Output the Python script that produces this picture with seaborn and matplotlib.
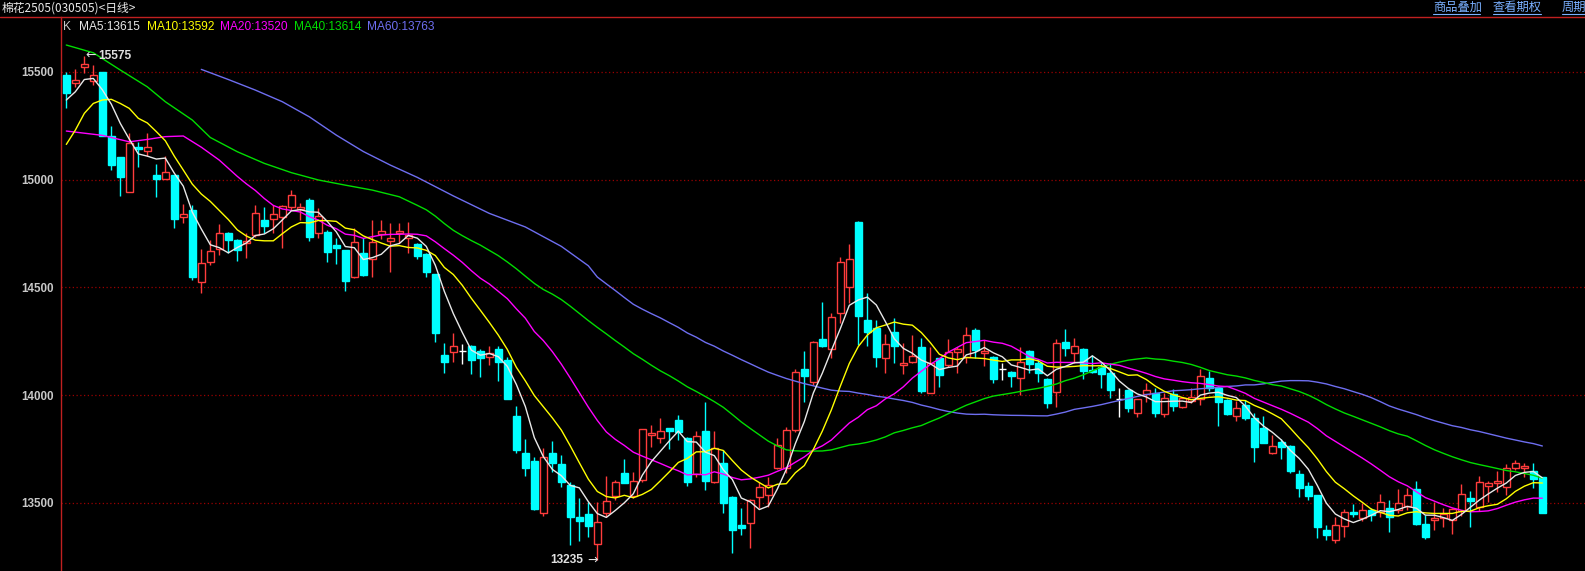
import numpy as np
import pandas as pd
import matplotlib
matplotlib.use("Agg")
import matplotlib.pyplot as plt
import seaborn as sns
from matplotlib.lines import Line2D

# ---------------- data ----------------
opens = [15485, 15446, 15520, 15457, 15498, 15203, 15104, 14940, 15152, 15134,
         15021, 15001, 15021, 14824, 14858, 14523, 14616, 14678, 14753, 14719,
         14704, 14742, 14812, 14815, 14827, 14871, 14861, 14905, 14750, 14758,
         14696, 14673, 14549, 14657, 14630, 14747, 14716, 14753, 14730, 14700,
         14655, 14560, 14186, 14201, 14206, 14228, 14204, 14177, 14212, 14163,
         13903, 13730, 13694, 13455, 13730, 13680, 13583, 13436, 13448, 13308,
         13452, 13532, 13637, 13532, 13606, 13813, 13799, 13846, 13884, 13799,
         13634, 13835, 13595, 13687, 13529, 13397, 13405, 13529, 13537, 13660,
         13660, 13840, 14120, 14062, 14259, 14212, 14379, 14500, 14801, 14348,
         14310, 14171, 14291, 14138, 14155, 14225, 14011, 14171, 14140, 14198,
         14175, 14302, 14197, 14178, 14120, 14109, 14078, 14205, 14151, 14075,
         14013, 14245, 14194, 14214, 14117, 14132, 14104, 13984, 14024, 13916,
         14004, 14008, 13911, 14004, 13943, 13974, 13981, 14078, 14032, 13977,
         13905, 13954, 13892, 13846, 13733, 13783, 13764, 13634, 13576, 13537,
         13375, 13328, 13394, 13456, 13428, 13467, 13456, 13478, 13467, 13486,
         13564, 13402, 13421, 13428, 13421, 13462, 13521, 13483, 13580, 13591,
         13575, 13660, 13663, 13648, 13622]
highs = [15500, 15515, 15575, 15531, 15500, 15248, 15104, 15214, 15175, 15214,
         15072, 15109, 15021, 14886, 14882, 14678, 14719, 14793, 14758, 14724,
         14750, 14882, 14874, 14882, 14882, 14951, 14889, 14914, 14866, 14766,
         14727, 14673, 14773, 14727, 14812, 14812, 14797, 14797, 14804, 14705,
         14657, 14560, 14240, 14286, 14236, 14234, 14212, 14228, 14228, 14178,
         13949, 13795, 13711, 13753, 13787, 13722, 13598, 13521, 13506, 13503,
         13625, 13606, 13702, 13645, 13841, 13861, 13892, 13846, 13908, 13807,
         13835, 13969, 13835, 13745, 13532, 13475, 13517, 13598, 13622, 13799,
         13853, 14120, 14205, 14250, 14433, 14379, 14639, 14701, 14808, 14472,
         14348, 14282, 14356, 14240, 14279, 14263, 14225, 14171, 14260, 14225,
         14317, 14312, 14256, 14182, 14151, 14113, 14225, 14209, 14163, 14081,
         14259, 14308, 14266, 14220, 14186, 14151, 14147, 14032, 14027, 13982,
         14055, 14035, 14008, 14027, 13993, 14032, 14120, 14114, 14042, 13981,
         13974, 13977, 13916, 13903, 13815, 13797, 13769, 13653, 13599, 13537,
         13398, 13436, 13472, 13493, 13501, 13475, 13540, 13513, 13564, 13568,
         13602, 13444, 13506, 13475, 13475, 13588, 13555, 13625, 13602, 13648,
         13679, 13699, 13684, 13687, 13622]
lows = [15333, 15430, 15492, 15438, 15200, 15044, 14925, 14940, 15059, 15109,
        14917, 15001, 14773, 14800, 14534, 14472, 14603, 14650, 14657, 14623,
        14637, 14735, 14750, 14750, 14681, 14858, 14812, 14715, 14727, 14619,
        14608, 14484, 14541, 14552, 14549, 14722, 14572, 14704, 14658, 14630,
        14549, 14248, 14104, 14155, 14146, 14100, 14084, 14140, 14066, 13982,
        13730, 13625, 13467, 13439, 13645, 13575, 13305, 13325, 13343, 13235,
        13436, 13513, 13591, 13521, 13598, 13761, 13776, 13748, 13792, 13578,
        13618, 13560, 13591, 13455, 13266, 13351, 13289, 13475, 13482, 13656,
        13637, 13830, 13970, 14047, 14222, 14171, 14333, 14429, 14232, 14228,
        14132, 14104, 14151, 14098, 14147, 14011, 14011, 14039, 14132, 14104,
        14151, 14171, 14137, 14055, 14070, 14036, 14001, 14101, 14062, 13942,
        13943, 14183, 14151, 14075, 14101, 14035, 13988, 13900, 13923, 13900,
        13967, 13900, 13900, 13928, 13939, 13962, 13954, 14019, 13858, 13908,
        13882, 13885, 13691, 13777, 13727, 13705, 13637, 13529, 13514, 13336,
        13328, 13315, 13343, 13433, 13418, 13418, 13436, 13367, 13452, 13467,
        13397, 13331, 13374, 13390, 13356, 13439, 13390, 13462, 13506, 13552,
        13537, 13653, 13622, 13568, 13452]
closes = [15403, 15460, 15534, 15483, 15203, 15069, 15013, 15168, 15141, 15152,
          15001, 15036, 14817, 14840, 14549, 14611, 14670, 14750, 14719, 14673,
          14716, 14843, 14786, 14840, 14878, 14926, 14871, 14735, 14831, 14665,
          14684, 14531, 14708, 14557, 14708, 14763, 14727, 14760, 14745, 14645,
          14572, 14290, 14155, 14229, 14206, 14163, 14173, 14194, 14155, 13982,
          13745, 13660, 13472, 13714, 13687, 13598, 13433, 13417, 13394, 13410,
          13509, 13595, 13594, 13603, 13841, 13823, 13835, 13835, 13830, 13598,
          13812, 13603, 13753, 13501, 13374, 13382, 13513, 13575, 13583, 13768,
          13838, 14109, 14089, 14245, 14228, 14361, 14619, 14630, 14369, 14294,
          14178, 14236, 14229, 14147, 14181, 14019, 14151, 14093, 14198, 14212,
          14279, 14209, 14206, 14075, 14120, 14090, 14152, 14143, 14101, 13962,
          14240, 14220, 14228, 14113, 14109, 14096, 14024, 13984, 13942, 13982,
          14024, 13916, 13985, 13951, 13985, 13990, 14089, 14032, 13970, 13913,
          13939, 13892, 13761, 13780, 13766, 13761, 13650, 13571, 13532, 13390,
          13351, 13398, 13456, 13449, 13467, 13444, 13503, 13433, 13501, 13537,
          13402, 13343, 13431, 13447, 13470, 13540, 13510, 13598, 13591, 13602,
          13660, 13684, 13671, 13611, 13455]

# moving-average values before enough visible history exists
ma5_head = [15369, 15407, 15464, 15469]
ma10_head = [15163, 15229, 15307, 15353, 15369, 15372, 15353, 15330, 15284]
ma20_head_idx = [0, 4, 7, 9, 11, 13, 15, 17]
ma20_head = [15225, 15205, 15175, 15186, 15199, 15202, 15150, 15090]
ma40_head_idx = [0, 3, 6, 9, 11, 14, 16, 19, 22, 25, 28, 31, 34, 37]
ma40_head = [15624, 15588, 15508, 15430, 15361, 15276, 15195, 15129, 15075,
             15032, 14998, 14974, 14951, 14920]
ma60_head_idx = [15, 18, 21, 24, 27, 30, 33, 36, 39, 43, 47, 51, 55, 58]
ma60_head = [15511, 15464, 15415, 15361, 15291, 15206, 15130, 15067, 15010,
             14924, 14843, 14780, 14690, 14600]

# legend row as printed in the chart header
legend_names = ["K", "MA5", "MA10", "MA20", "MA40", "MA60"]
legend_values = ["", "13615", "13592", "13520", "13614", "13763"]

y_ticks = [13500, 14000, 14500, 15000, 15500]
title_text = "棉花2505(030505)<日线>"
link_texts = ["商品叠加", "查看期权", "周期"]
high_idx, high_mark = 2, 15575
low_idx, low_mark = 59, 13235

# ---------------- style ----------------
W, H = 1585, 571
sns.set_theme(style="dark", rc={"axes.facecolor": "black", "figure.facecolor": "black",
                                "savefig.facecolor": "black"})
plt.rcParams["font.family"] = ["Liberation Sans", "Noto Sans CJK SC", "DejaVu Sans"]

RED = "#ff3c3c"
CYAN = "#00ffff"
C_MA = {"K": "#c8c8c8", "MA5": "#e8e8e8", "MA10": "#ffff00", "MA20": "#ff00ff",
        "MA40": "#00dd00", "MA60": "#6e6ef0"}


def fx(px):
    return px / W


def fy(py):
    return 1 - py / H


fig = plt.figure(figsize=(W / 100, H / 100), dpi=100)
ax = fig.add_axes([fx(61), 0, 1 - fx(61), 1 - 17 / H])
ax.set_facecolor("black")

o = np.array(opens, float)
h = np.array(highs, float)
l = np.array(lows, float)
c = np.array(closes, float)
n = len(c)
x = np.arange(n)
up = c > o
dn = c < o
fl = c == o
bw = 0.72

# wicks
ax.vlines(x[up], l[up], h[up], color=RED, lw=1, zorder=2)
ax.vlines(x[dn], l[dn], h[dn], color=CYAN, lw=1, zorder=2)
ax.vlines(x[fl], l[fl], h[fl], color="white", lw=1, zorder=2)
# bodies
ax.bar(x[up], (c - o)[up], bottom=o[up], width=bw, facecolor="black",
       edgecolor=RED, linewidth=1, zorder=3)
ax.bar(x[dn], (o - c)[dn], bottom=c[dn], width=bw, facecolor=CYAN,
       edgecolor=CYAN, linewidth=1, zorder=3)
ax.hlines(c[fl], x[fl] - bw / 2, x[fl] + bw / 2, color="white", lw=1, zorder=3)

# moving averages
s = pd.Series(c)


def full_ma(win, head):
    m = s.rolling(win).mean().to_numpy()
    m[:win - 1] = head
    return pd.DataFrame({"i": x, "v": m})


def sparse_ma(win, idx, head):
    m = s.rolling(win).mean()
    part = pd.DataFrame({"i": x[win - 1:], "v": m.to_numpy()[win - 1:]})
    return pd.concat([pd.DataFrame({"i": idx, "v": head}), part], ignore_index=True)


ma_frames = {
    "MA60": sparse_ma(60, ma60_head_idx, ma60_head),
    "MA40": sparse_ma(40, ma40_head_idx, ma40_head),
    "MA20": sparse_ma(20, ma20_head_idx, ma20_head),
    "MA10": full_ma(10, ma10_head),
    "MA5": full_ma(5, ma5_head),
}
for name, df in ma_frames.items():
    sns.lineplot(data=df, x="i", y="v", ax=ax, color=C_MA[name], lw=1,
                 zorder=4, estimator=None, sort=False)

# scales
xmin, xmax = -0.59, 168.74
ax.set_xlim(xmin, xmax)
ax.set_ylim(13184, 15754)
ax.set_xlabel("")
ax.set_ylabel("")
ax.set_xticks([])
ax.set_yticks(y_ticks)
ax.set_yticklabels([str(v) for v in y_ticks])
ax.tick_params(axis="y", colors="#c8c8c8", length=0, pad=5, labelsize=8.4)
for t in ax.get_yticklabels():
    t.set_fontweight("bold")
ax.hlines(y_ticks, xmin, xmax, colors="#9a0000", linestyles=(0, (1, 2)),
          lw=0.9, zorder=1)
for sp in ["top", "right", "bottom"]:
    ax.spines[sp].set_visible(False)
ax.spines["left"].set_color("#c02020")
ax.spines["left"].set_linewidth(1)
ax.grid(False)

# high / low marks (arrow + number)
mark_col = "#e0e0e0"
ax.annotate("\u2190", (high_idx, high_mark), xytext=(0.5, 0), textcoords="offset points",
            color=mark_col, fontsize=9, va="center", ha="left",
            family=["DejaVu Sans"], zorder=6)
ax.annotate(str(high_mark), (high_idx, high_mark), xytext=(10, 0),
            textcoords="offset points", color=mark_col, fontsize=8.6,
            fontweight="bold", va="center", ha="left",
            family=["Liberation Sans", "DejaVu Sans"], zorder=6)
ax.annotate("\u2192", (low_idx, low_mark), xytext=(0, 0), textcoords="offset points",
            color=mark_col, fontsize=9, va="center", ha="right",
            family=["DejaVu Sans"], zorder=6)
ax.annotate(str(low_mark), (low_idx, low_mark), xytext=(-10, 0),
            textcoords="offset points", color=mark_col, fontsize=8.6,
            fontweight="bold", va="center", ha="right",
            family=["Liberation Sans", "DejaVu Sans"], zorder=6)

# header
fig.add_artist(Line2D([0, 1], [fy(16.5), fy(16.5)], color="#c02020", lw=1))
fig.text(fx(2), fy(8), title_text, color="#e8e8e8", fontsize=8.5, va="center",
         ha="left", family=["Noto Sans CJK SC", "DejaVu Sans"])
link_x = [1433, 1493, 1562]
link_w = [47, 48, 40]
for lx, lw_, t in zip(link_x, link_w, link_texts):
    fig.text(fx(lx), fy(7.5), t, color="#7ab0ff", fontsize=8.8, va="center",
             ha="left", family=["Noto Sans CJK SC", "DejaVu Sans"])
    fig.add_artist(Line2D([fx(lx), fx(lx + lw_)], [fy(14), fy(14)],
                          color="#7ab0ff", lw=0.8))

# legend row
leg_x = [63, 79, 147, 220, 294, 367]
for name, val, px in zip(legend_names, legend_values, leg_x):
    t = name if not val else "%s:%s" % (name, val)
    fig.text(fx(px), fy(27), t, color=C_MA[name], fontsize=8.6, va="center",
             ha="left", family=["Liberation Sans", "DejaVu Sans"])

fig.savefig("out.png", dpi=100, facecolor="black")
